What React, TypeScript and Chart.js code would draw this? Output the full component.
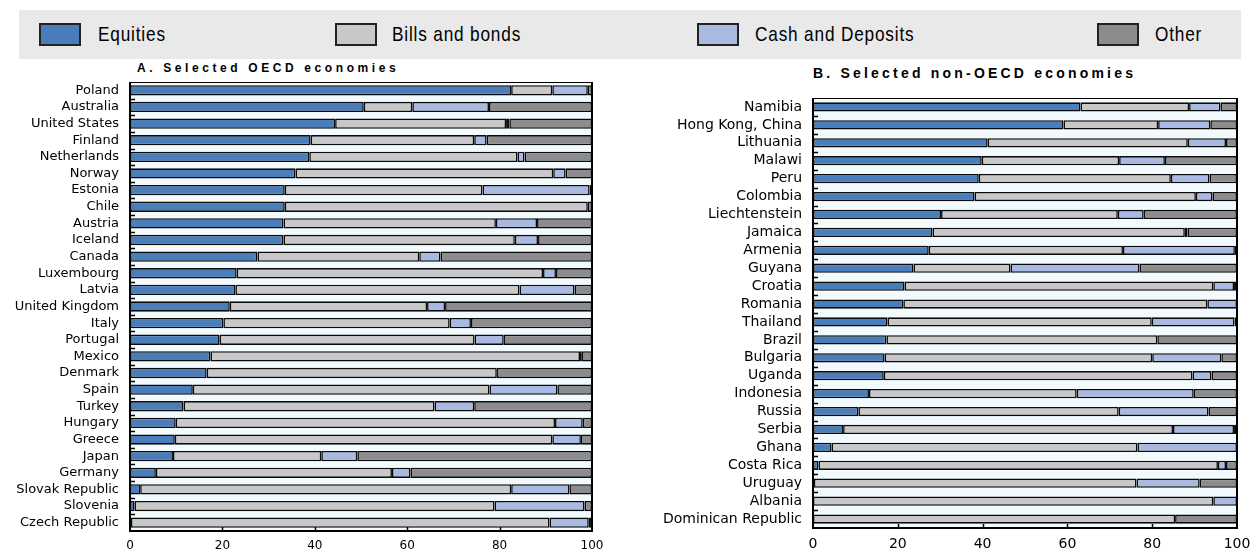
import React, { useEffect, useRef } from "react";
import { Chart, registerables } from "chart.js";

Chart.register(...registerables);

// ---------- data ----------
const seriesNames = ["Equities", "Bills and bonds", "Cash and Deposits", "Other"];
const seriesColors = ["#4a7ebb", "#c8c8c8", "#a8b9e2", "#8c8c8c"];

const oecdCountries = [
  "Poland", "Australia", "United States", "Finland", "Netherlands", "Norway", "Estonia",
  "Chile", "Austria", "Iceland", "Canada", "Luxembourg", "Latvia", "United Kingdom",
  "Italy", "Portugal", "Mexico", "Denmark", "Spain", "Turkey", "Hungary", "Greece",
  "Japan", "Germany", "Slovak Republic", "Slovenia", "Czech Republic",
];
const oecdEquities = [82.5, 50.6, 44.4, 39.1, 38.8, 35.8, 33.5, 33.5, 33.2, 33.2, 27.6, 23.1, 22.8, 21.6, 20.2, 19.4, 17.4, 16.6, 13.6, 11.6, 9.9, 9.7, 9.3, 5.6, 2.2, 1.0, 0.2];
const oecdBills = [8.9, 10.5, 37.0, 35.4, 45.1, 55.8, 42.8, 65.6, 46.0, 50.1, 35.0, 66.3, 61.5, 42.7, 49.0, 55.2, 80.0, 62.8, 64.2, 54.3, 82.1, 81.7, 32.1, 51.1, 80.3, 77.9, 90.6];
const oecdCash = [7.7, 16.6, 0.7, 2.7, 1.5, 2.7, 23.2, 0, 8.9, 5.0, 4.6, 2.8, 11.9, 3.9, 4.6, 6.3, 0.4, 0, 14.7, 8.6, 6.0, 6.2, 7.8, 4.0, 12.6, 19.5, 8.5];
const oecdOther = [0.9, 22.3, 17.9, 22.8, 14.6, 5.7, 0.5, 0.9, 11.9, 11.7, 32.8, 7.8, 3.8, 31.8, 26.2, 19.1, 2.2, 20.6, 7.5, 25.5, 2.0, 2.4, 50.8, 39.3, 4.9, 1.6, 0.7];

const nonOecdCountries = [
  "Namibia", "Hong Kong, China", "Lithuania", "Malawi", "Peru", "Colombia", "Liechtenstein",
  "Jamaica", "Armenia", "Guyana", "Croatia", "Romania", "Thailand", "Brazil", "Bulgaria",
  "Uganda", "Indonesia", "Russia", "Serbia", "Ghana", "Costa Rica", "Uruguay", "Albania",
  "Dominican Republic",
];
const nonOecdEquities = [63.1, 59.1, 41.2, 39.8, 39.1, 38.1, 30.2, 28.2, 27.3, 23.7, 21.6, 21.3, 17.6, 17.3, 16.9, 16.7, 13.2, 10.7, 7.1, 4.4, 1.3, 0.2, 0, 0];
const nonOecdBills = [25.6, 22.3, 47.2, 32.4, 45.3, 52.2, 41.7, 59.5, 45.8, 22.9, 72.8, 71.7, 62.3, 63.9, 63.1, 72.8, 49.0, 61.4, 77.8, 72.1, 94.2, 76.1, 94.4, 85.4];
const nonOecdCash = [7.4, 12.3, 9.0, 10.8, 9.1, 3.9, 6.1, 0.6, 26.4, 30.4, 4.9, 7.0, 19.5, 0, 16.3, 4.5, 27.6, 21.2, 14.4, 23.5, 1.9, 14.9, 5.6, 0];
const nonOecdOther = [3.9, 6.3, 2.6, 17.0, 6.5, 5.8, 22.0, 11.7, 0.5, 23.0, 0.7, 0, 0.6, 18.8, 3.7, 6.0, 10.2, 6.7, 0.7, 0, 2.6, 8.8, 0, 14.6];

const xTickValues = [0, 20, 40, 60, 80, 100];

// ---------- plugin: plot background, inner ticks, frame ----------
const framePlugin = {
  id: "frame",
  beforeDraw(chart: any) {
    const { ctx, chartArea: a } = chart;
    ctx.save();
    ctx.fillStyle = "#f3fafd";
    ctx.fillRect(a.left, a.top, a.right - a.left, a.bottom - a.top);
    ctx.restore();
  },
  afterDraw(chart: any) {
    const { ctx, chartArea: a } = chart;
    const ys = chart.scales.y;
    const xs = chart.scales.x;
    ctx.save();
    ctx.strokeStyle = "#000";
    ctx.lineWidth = 1.5;
    const n = chart.data.labels.length;
    ctx.beginPath();
    for (let i = 1; i < n; i++) {
      const y = Math.round((ys.getPixelForValue(i - 1) + ys.getPixelForValue(i)) / 2) + 0.5;
      ctx.moveTo(a.left, y);
      ctx.lineTo(a.left + 5, y);
    }
    for (const v of xTickValues) {
      if (v === 0 || v === 100) continue;
      const x = Math.round(xs.getPixelForValue(v)) + 0.5;
      ctx.moveTo(x, a.bottom);
      ctx.lineTo(x, a.bottom - 4);
    }
    ctx.stroke();
    ctx.lineWidth = 2;
    ctx.strokeRect(a.left, a.top, a.right - a.left, a.bottom - a.top);
    ctx.restore();
  },
};

type PanelProps = {
  labels: string[];
  values: number[][];
  width: number;
  height: number;
  yWidth: number;
  xHeight: number;
  rightPad: number;
  labelFont: number;
  tickFont: number;
  tickPad: number;
  barPct: number;
};

function Panel(p: PanelProps) {
  const ref = useRef<HTMLCanvasElement | null>(null);
  useEffect(() => {
    if (!ref.current) return;
    const chart = new Chart(ref.current, {
      type: "bar",
      data: {
        labels: p.labels,
        datasets: seriesNames.map((name, i) => ({
          label: name,
          data: p.values[i],
          backgroundColor: seriesColors[i],
          borderColor: "#0a0a0a",
          borderWidth: 1.6,
          borderSkipped: false,
          barPercentage: p.barPct,
          categoryPercentage: 1,
        })),
      },
      options: {
        responsive: false,
        animation: false,
        indexAxis: "y",
        layout: { padding: { left: 0, right: p.rightPad, top: 0, bottom: 0 } },
        plugins: {
          legend: { display: false },
          tooltip: { enabled: false },
          title: { display: false },
        },
        scales: {
          x: {
            stacked: true,
            min: 0,
            max: 100,
            afterBuildTicks: (s: any) => {
              s.ticks = xTickValues.map((v) => ({ value: v }));
            },
            ticks: {
              color: "#000",
              font: { family: "'DejaVu Sans', sans-serif", size: p.tickFont },
              padding: p.tickPad,
              maxRotation: 0,
            },
            grid: { display: false, drawTicks: false },
            border: { display: false },
            afterFit: (s: any) => {
              s.height = p.xHeight;
              s.paddingLeft = 0;
              s.paddingRight = 0;
            },
          },
          y: {
            stacked: true,
            ticks: {
              color: "#000",
              font: { family: "'DejaVu Sans', sans-serif", size: p.labelFont },
              padding: 11,
              autoSkip: false,
            },
            grid: { display: false, drawTicks: false },
            border: { display: false },
            afterFit: (s: any) => {
              s.width = p.yWidth;
              s.paddingTop = 0;
              s.paddingBottom = 0;
            },
          },
        },
      },
      plugins: [framePlugin],
    } as any);
    return () => chart.destroy();
  }, []);
  return <canvas ref={ref} width={p.width} height={p.height} style={{ width: p.width, height: p.height, display: "block" }} />;
}

const legendItems = [
  { box: 39, text: 98 },
  { box: 335, text: 392 },
  { box: 697, text: 755 },
  { box: 1097, text: 1155 },
];

export default function App() {
  return (
    <div style={{ position: "fixed", left: 0, top: 0, width: 1252, height: 552, background: "#fff", overflow: "hidden" }}>
      <div style={{ position: "absolute", left: 19, top: 10, width: 1222, height: 49, background: "#e9e9e9" }} />
      {seriesNames.map((name, i) => (
        <React.Fragment key={name}>
          <div
            style={{
              position: "absolute",
              left: legendItems[i].box,
              top: 23,
              width: 38,
              height: 19,
              background: seriesColors[i],
              border: "2px solid #222",
            }}
          />
          <div
            style={{
              position: "absolute",
              left: legendItems[i].text,
              top: 20,
              height: 28,
              lineHeight: "28px",
              fontFamily: "'Liberation Sans', Arial, sans-serif",
              fontSize: 21,
              letterSpacing: 1,
              color: "#000",
              whiteSpace: "nowrap",
              transform: "scaleX(0.82)",
              transformOrigin: "0 50%",
            }}
          >
            {name}
          </div>
        </React.Fragment>
      ))}
      <div
        style={{
          position: "absolute",
          left: 137,
          top: 60,
          fontFamily: "'Liberation Sans', Arial, sans-serif",
          fontWeight: "bold",
          fontSize: 12,
          letterSpacing: 3.6,
          lineHeight: "16px",
          color: "#000",
          whiteSpace: "nowrap",
        }}
      >
        A. Selected OECD economies
      </div>
      <div
        style={{
          position: "absolute",
          left: 813,
          top: 64,
          fontFamily: "'Liberation Sans', Arial, sans-serif",
          fontWeight: "bold",
          fontSize: 14,
          letterSpacing: 3.2,
          lineHeight: "18px",
          color: "#000",
          whiteSpace: "nowrap",
        }}
      >
        B. Selected non-OECD economies
      </div>
      <div style={{ position: "absolute", left: 0, top: 82 }}>
        <Panel
          labels={oecdCountries}
          values={[oecdEquities, oecdBills, oecdCash, oecdOther]}
          width={610}
          height={470}
          yWidth={130}
          xHeight={21}
          rightPad={18}
          labelFont={13}
          tickFont={12}
          tickPad={8}
          barPct={0.62}
        />
      </div>
      <div style={{ position: "absolute", left: 640, top: 98 }}>
        <Panel
          labels={nonOecdCountries}
          values={[nonOecdEquities, nonOecdBills, nonOecdCash, nonOecdOther]}
          width={612}
          height={454}
          yWidth={173}
          xHeight={24}
          rightPad={15}
          labelFont={14}
          tickFont={14}
          tickPad={8}
          barPct={0.52}
        />
      </div>
    </div>
  );
}
